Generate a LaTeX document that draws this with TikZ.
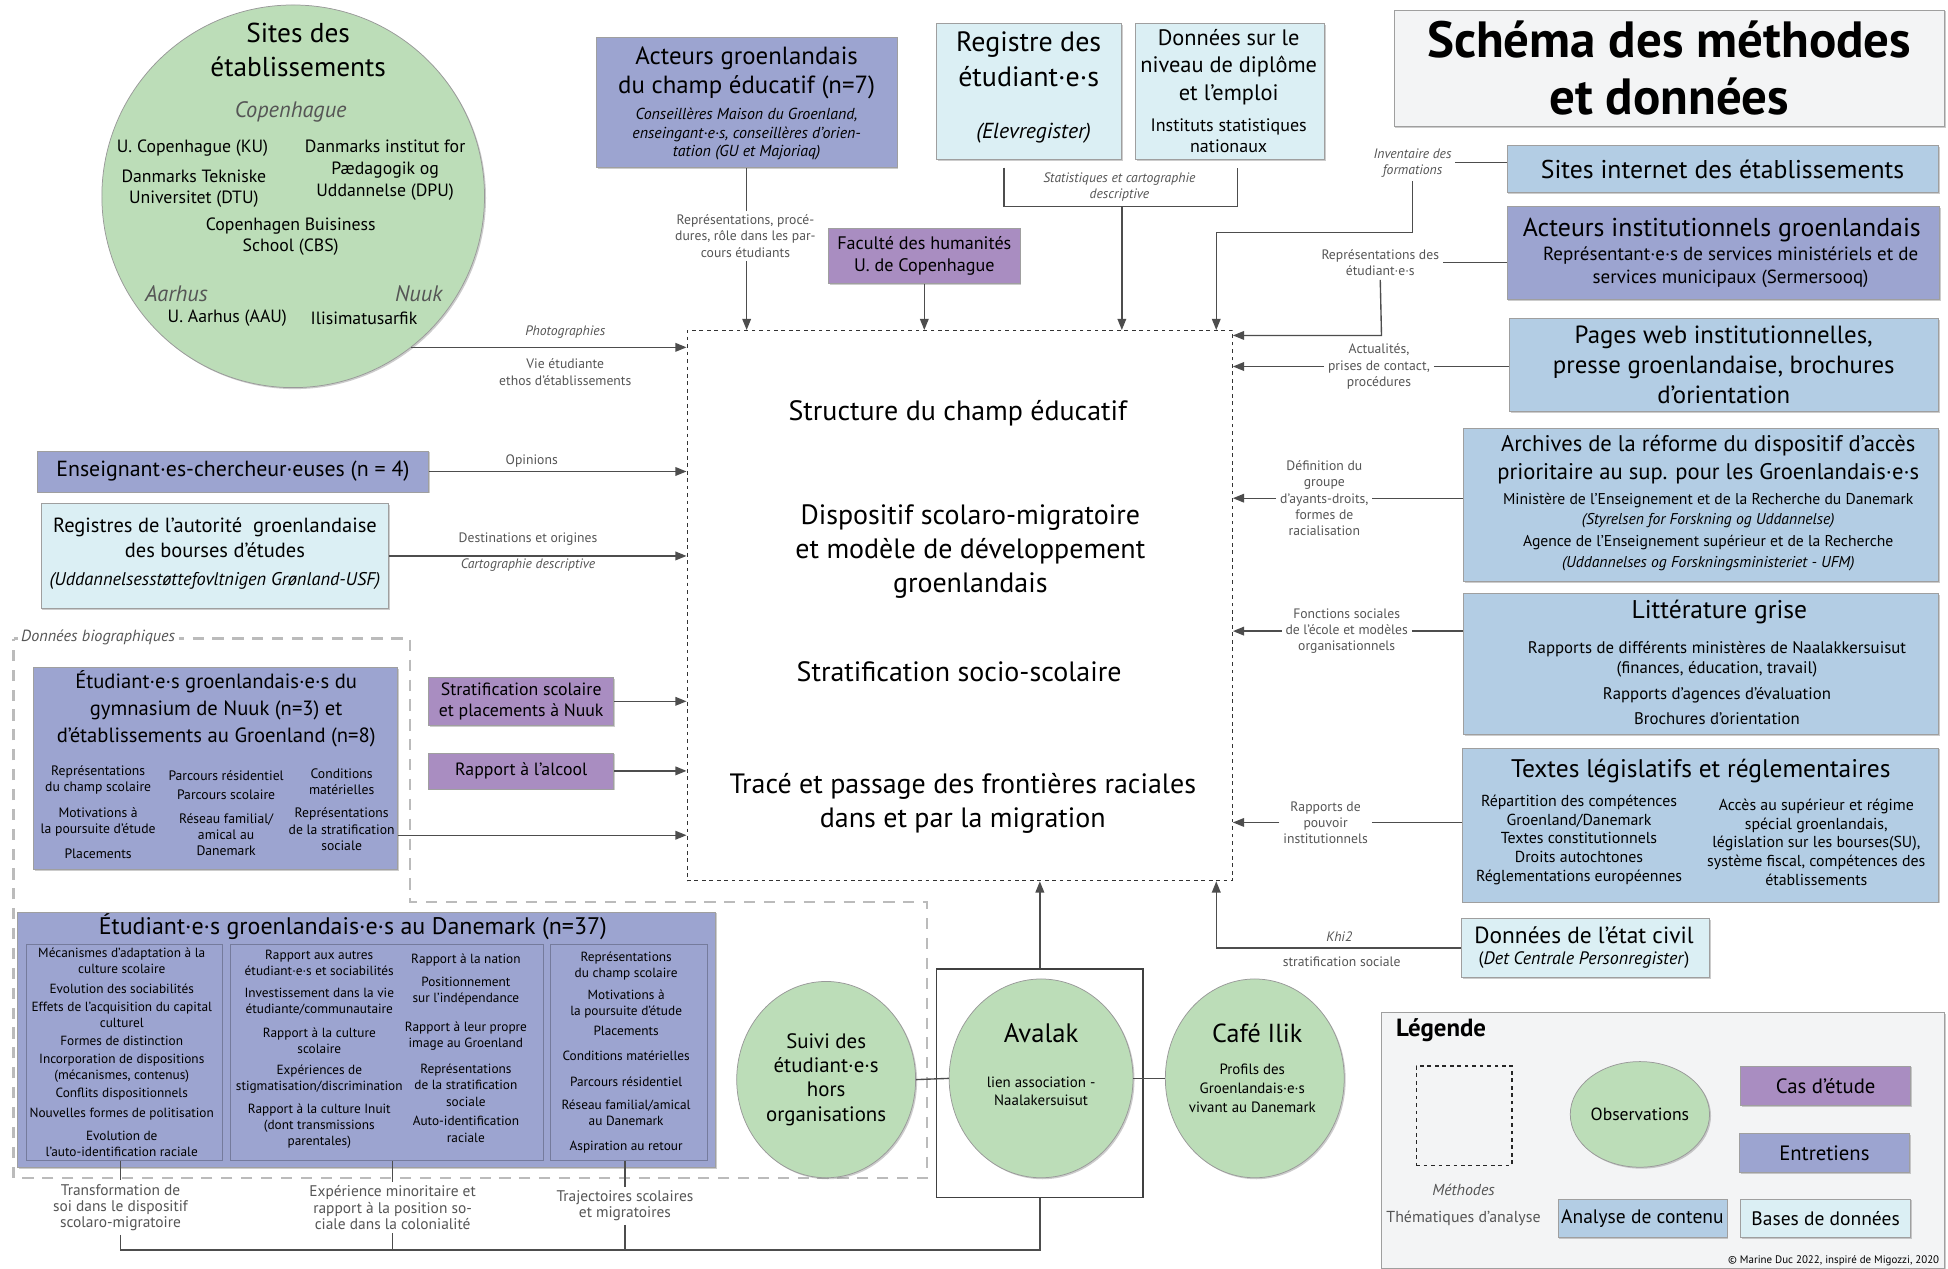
\documentclass[tikz,border=0pt]{standalone}
\usepackage{fontspec}
\setmainfont{PT Sans}
\usetikzlibrary{positioning,shapes.geometric,shadows,arrows.meta,calc}
\definecolor{clObs}{HTML}{BCDDB8}
\definecolor{clEntr}{HTML}{9CA4D0}
\definecolor{clCas}{HTML}{A98DC1}
\definecolor{clCont}{HTML}{B3CDE4}
\definecolor{clBase}{HTML}{DBEFF4}
\definecolor{clLeg}{HTML}{F3F4F5}
\definecolor{clLine}{HTML}{4D4D4D}
\definecolor{clTxt}{HTML}{555555}
\definecolor{clBio}{HTML}{BBBBBB}
\newcommand{\fsz}[2]{\fontsize{#1}{#2}\selectfont}
\tikzset{
  box/.style={draw=gray!75, line width=0.6pt, inner sep=2pt, align=center,
    drop shadow={shadow xshift=1.2pt, shadow yshift=-1.2pt, opacity=0.4}},
  entretien/.style={box, fill=clEntr},
  cas/.style={box, fill=clCas},
  contenu/.style={box, fill=clCont},
  base/.style={box, fill=clBase},
  obs/.style={ellipse, draw=gray!80, line width=0.6pt, fill=clObs, inner sep=0pt, align=center,
    drop shadow={shadow xshift=1.2pt, shadow yshift=-1.2pt, opacity=0.4}},
  txt/.style={align=center, inner sep=0pt},
  lbl/.style={txt, inner sep=3pt, text=clTxt, font=\fsz{11}{13}},
  ilbl/.style={lbl, font=\fsz{11}{13}\itshape},
  link/.style={draw=clLine, line width=1.1pt},
  arr/.style={link, -{Triangle[length=9pt,width=7pt]}},
  bio/.style={draw=clBio, line width=2pt, dash pattern=on 9pt off 7pt},
}
\begin{document}
\begin{tikzpicture}[x=1pt,y=-1pt]
\useasboundingbox (0,0) rectangle (1568,1021);
\fill[white] (0,0) rectangle (1568,1021);

% zone des donnees biographiques
\draw[bio] (11,514) -- (330,514) -- (330,726) -- (746,726) -- (746,948) -- (11,948) -- cycle;
\node[txt, fill=white, inner xsep=3pt, text=clTxt, font=\fsz{13}{15}\itshape] (bioL) at (79,513) {Données biographiques};

% champ central
\node[draw=black!80, dashed, line width=0.8pt, minimum width=439pt, minimum height=443pt] (champ) at (772.5,487.5) {};
\node[txt, font=\fsz{22.5}{27.5}] (t1) at (771,333) {Structure du champ éducatif};
\node[txt, font=\fsz{22.5}{27.5}] (t2) at (781,444) {Dispositif scolaro-migratoire\\et modèle de développement\\groenlandais};
\node[txt, font=\fsz{22.5}{27.5}] (t3) at (772,541) {Stratification socio-scolaire};
\node[txt, font=\fsz{22.5}{27.5}] (t4) at (775,646.5) {Tracé et passage des frontières raciales\\dans et par la migration};

% sites des etablissements
\node[obs, minimum size=308pt] (sites) at (236,158) {};
\node[txt, font=\fsz{22}{27}] (sitesT) at (240,40) {Sites des\\établissements};
\node[txt, font=\fsz{18}{20}\itshape, text=clTxt] (cph) at (234,90) {Copenhague};
\node[txt, font=\fsz{14.3}{17}] (ku) at (155,119) {U. Copenhague (KU)};
\node[txt, font=\fsz{14.3}{17.5}] (dpu) at (310,137) {Danmarks institut for\\Pædagogik og\\Uddannelse (DPU)};
\node[txt, font=\fsz{14.3}{16.5}] (dtu) at (156,152) {Danmarks Tekniske\\Universitet (DTU)};
\node[txt, font=\fsz{14.3}{16.5}] (cbs) at (234,190.5) {Copenhagen Buisiness\\School (CBS)};
\node[txt, font=\fsz{18}{20}\itshape, text=clTxt] (aar) at (142,236) {Aarhus};
\node[txt, font=\fsz{18}{20}\itshape, text=clTxt] (nuuk) at (337,236) {Nuuk};
\node[txt, font=\fsz{14.3}{17}] (aau) at (183,256) {U. Aarhus (AAU)};
\node[txt, font=\fsz{14.3}{17}] (ilis) at (293,256) {Ilisimatusarfik};

% haut
\node[entretien, minimum width=242pt, minimum height=105pt] (acteurs) at (601,82.5) {};
\node[txt, font=\fsz{20}{23}] (acteursT) at (601,58.5) {Acteurs groenlandais\\du champ éducatif (n=7)};
\node[txt, font=\fsz{12.8}{15}\itshape] (acteursS) at (601,108) {Conseillères Maison du Groenland,\\enseingant·e·s, conseillères d’orien-\\tation (GU et Majoriaq)};
\node[cas, minimum width=154pt, minimum height=44pt, font=\fsz{14.6}{17}] (faculte) at (744,206) {Faculté des humanités\\U. de Copenhague};
\node[base, minimum width=149pt, minimum height=109pt] (registre) at (828.5,73.5) {};
\node[txt, font=\fsz{22.5}{28}] (registreT) at (828,48) {Registre des\\étudiant·e·s};
\node[txt, font=\fsz{17.5}{20}\itshape] (elev) at (832,107) {(Elevregister)};
\node[base, minimum width=152pt, minimum height=109pt] (donnees) at (990,73.5) {};
\node[txt, font=\fsz{18}{22}] (donneesT) at (989,54) {Données sur le\\niveau de diplôme\\et l’emploi};
\node[txt, font=\fsz{14.5}{17}] (insee) at (989,109.5) {Instituts statistiques\\nationaux};
\node[box, fill=clLeg, minimum width=443pt, minimum height=94pt, font=\fsz{41}{46}\bfseries] (titre) at (1343.5,55) {Schéma des méthodes\\et données};

% droite
\node[contenu, minimum width=347pt, minimum height=38pt, font=\fsz{20.7}{24}] (siteweb) at (1386.5,136) {Sites internet des établissements};
\node[entretien, minimum width=348pt, minimum height=75pt] (instit) at (1387,203.5) {};
\node[txt, font=\fsz{20.8}{24}] (institT) at (1386,185) {Acteurs institutionnels groenlandais};
\node[txt, font=\fsz{15.3}{18}] (institS) at (1393,215) {Représentant·e·s de services ministériels et de\\services municipaux (Sermersooq)};
\node[contenu, minimum width=345pt, minimum height=75pt, font=\fsz{20}{24}] (pages) at (1387.5,293.5) {Pages web institutionnelles,\\presse groenlandaise, brochures\\d’orientation};
\node[contenu, minimum width=382pt, minimum height=123pt] (archives) at (1369,406.5) {};
\node[txt, font=\fsz{18.2}{22}] (archT) at (1375,370) {Archives de la réforme du dispositif d’accès\\prioritaire au sup. pour les Groenlandais·e·s};
\node[txt, font=\fsz{12.6}{16.5}] (archS) at (1375,428) {Ministère de l’Enseignement et de la Recherche du Danemark\\\textit{(Styrelsen for Forskning og Uddannelse)}\\[1pt]Agence de l’Enseignement supérieur et de la Recherche\\\textit{(Uddannelses og Forskningsministeriet - UFM)}};
\node[contenu, minimum width=382pt, minimum height=113pt] (litt) at (1369,534.5) {};
\node[txt, font=\fsz{20.6}{24}] (littT) at (1384,493) {Littérature grise};
\node[txt, font=\fsz{13.5}{16}] (littS) at (1382,550) {Rapports de différents ministères de Naalakkersuisut\\(finances, éducation, travail)\\[5pt]Rapports d’agences d’évaluation\\[4pt]Brochures d’orientation};
\node[contenu, minimum width=383pt, minimum height=124pt] (textes) at (1368.5,664) {};
\node[txt, font=\fsz{20.5}{24}] (textT) at (1369,621) {Textes législatifs et réglementaires};
\node[txt, font=\fsz{12.8}{15}] (textL) at (1271,676) {Répartition des compétences\\Groenland/Danemark\\Textes constitutionnels\\Droits autochtones\\Réglementations européennes};
\node[txt, font=\fsz{12.8}{15}] (textR) at (1462,678) {Accès au supérieur et régime\\spécial groenlandais,\\législation sur les bourses(SU),\\système fiscal, compétences des\\établissements};
\node[base, minimum width=200pt, minimum height=48pt] (etatcivil) at (1276,763) {};
\node[txt, font=\fsz{18.8}{22}] (etatT) at (1275,753) {Données de l’état civil};
\node[txt, font=\fsz{14.5}{17}] (etatS) at (1275,773) {(\textit{Det Centrale Personregister})};

% gauche
\node[entretien, minimum width=315pt, minimum height=33pt, font=\fsz{17.6}{20}] (enseign) at (187.5,379.5) {Enseignant·es-chercheur·euses (n = 4)};
\node[base, minimum width=280pt, minimum height=85pt] (bourses) at (173,447.5) {};
\node[txt, font=\fsz{16.5}{20}] (boursesT) at (173,433) {Registres de l’autorité~ groenlandaise\\des bourses d’études};
\node[txt, font=\fsz{14.8}{17}\itshape] (boursesS) at (173,468) {(Uddannelsesstøttefovltnigen Grønland-USF)};
\node[entretien, minimum width=293pt, minimum height=163pt] (nuukbox) at (173.5,618.5) {};
\node[txt, font=\fsz{16.6}{21.5}] (nuukT) at (174,570.5) {Étudiant·e·s groenlandais·e·s du\\gymnasium de Nuuk (n=3) et\\d’établissements au Groenland (n=8)};
\node[txt, font=\fsz{11}{13}] (nk1) at (79,653.5) {Représentations\\du champ scolaire\\[8pt]Motivations à\\la poursuite d’étude\\[7pt]Placements};
\node[txt, font=\fsz{11}{13}] (nk2) at (182,654.5) {Parcours résidentiel\\[3pt]Parcours scolaire\\[6pt]Réseau familial/\\amical au\\Danemark};
\node[txt, font=\fsz{11}{13}] (nk3) at (275,651.5) {Conditions\\matérielles\\[6pt]Représentations\\de la stratification\\sociale};
\node[cas, minimum width=149pt, minimum height=39pt, font=\fsz{14.3}{17}] (strat) at (419.5,564.5) {Stratification scolaire\\et placements à Nuuk};
\node[cas, minimum width=149pt, minimum height=29pt, font=\fsz{14.3}{17}] (alcool) at (419.5,620.5) {Rapport à l’alcool};

% etudiant.e.s au Danemark
\node[entretien, minimum width=562pt, minimum height=206pt] (danbox) at (295,837) {};
\node[txt, font=\fsz{19.3}{22}] (danT) at (284,746) {Étudiant·e·s groenlandais·e·s au Danemark (n=37)};
\node[draw=clEntr!75!black, line width=0.4pt, minimum width=158pt, minimum height=174pt] (col1) at (100,847) {};
\node[draw=clEntr!75!black, line width=0.4pt, minimum width=252pt, minimum height=174pt] (col2) at (311,847) {};
\node[draw=clEntr!75!black, line width=0.4pt, minimum width=126pt, minimum height=174pt] (col3) at (506,847) {};
\node[txt, font=\fsz{10.7}{13}] (c1) at (98,847) {Mécanismes d’adaptation à la\\culture scolaire\\[3pt]Evolution des sociabilités\\[1pt]Effets de l’acquisition du capital\\culturel\\[2pt]Formes de distinction\\[1pt]Incorporation de dispositions\\(mécanismes, contenus)\\[2pt]Conflits dispositionnels\\[3pt]Nouvelles formes de politisation\\[5pt]Evolution de\\l’auto-identification raciale};
\node[txt, font=\fsz{10.7}{13}] (c2) at (257,844.5) {Rapport aux autres\\étudiant·e·s et sociabilités\\[5pt]Investissement dans la vie\\étudiante/communautaire\\[6pt]Rapport à la culture\\scolaire\\[4pt]Expériences de\\stigmatisation/discrimination\\[5pt]Rapport à la culture Inuit\\(dont transmissions\\parentales)};
\node[txt, font=\fsz{10.7}{13}] (c3) at (375,843.5) {Rapport à la nation\\[6pt]Positionnement\\sur l’indépendance\\[10pt]Rapport à leur propre\\image au Groenland\\[8pt]Représentations\\de la stratification\\sociale\\[3pt]Auto-identification\\raciale};
\node[txt, font=\fsz{10.7}{13}] (c4) at (504,847) {Représentations\\du champ scolaire\\[5pt]Motivations à\\la poursuite d’étude\\[3pt]Placements\\[7pt]Conditions matérielles\\[8pt]Parcours résidentiel\\[5pt]Réseau familial/amical\\au Danemark\\[7pt]Aspiration au retour};

% observations
\node[draw=black!75, line width=1pt, minimum width=166pt, minimum height=184pt] (avbox) at (837,872) {};
\node[obs, minimum width=144pt, minimum height=158pt, font=\fsz{16.8}{19.5}] (suivi) at (665,869) {Suivi des\\étudiant·e·s\\hors\\organisations};
\node[obs, minimum width=148pt, minimum height=160pt] (avalak) at (838,868) {};
\node[txt, font=\fsz{21.5}{24}] (avT) at (838,832) {Avalak};
\node[txt, font=\fsz{12}{15}] (avS) at (838,878.5) {lien association -\\Naalakersuisut};
\node[obs, minimum width=144pt, minimum height=160pt] (cafe) at (1010,868) {};
\node[txt, font=\fsz{21}{24}] (cafeT) at (1012,832) {Café Ilik};
\node[txt, font=\fsz{12}{15}] (cafeS) at (1008,876) {Profils des\\Groenlandais·e·s\\vivant au Danemark};
\draw[link] (suivi.east) -- (avalak.west);
\draw[link] (avalak.east) -- (cafe.west);
\draw[arr] (avbox.north) -- (avbox.north |- champ.south);

% themes d'analyse
\coordinate (bas) at (837,1006);
\node[lbl, font=\fsz{12.4}{13}] (th1) at (97,972) {Transformation de\\soi dans le dispositif\\scolaro-migratoire};
\node[lbl, font=\fsz{12.4}{13}] (th2) at (316,972) {Expérience minoritaire et\\rapport à la position so-\\ciale dans la colonialité};
\node[lbl, font=\fsz{12.4}{13}] (th3) at (503,970.5) {Trajectoires scolaires\\et migratoires};
\draw[link] (th1 |- col1.south) -- (th1.north);
\draw[link] (th2 |- col2.south) -- (th2.north);
\draw[link] (th3 |- col3.south) -- (th3.north);
\draw[link] (th1.south) |- (bas) -- (avbox.south);
\draw[link] (th2.south) -- (th2.south |- bas);
\draw[link] (th3.south) -- (th3.south |- bas);

% connecteurs a gauche
\draw[arr] (sites.-52) -- (sites.-52 -| champ.west);
\node[ilbl] (photo) at (455,267) {Photographies};
\node[lbl] (vie) at (455,299.5) {Vie étudiante\\ethos d’établissements};
\draw[arr] (enseign.east) -- (enseign.east -| champ.west);
\node[lbl] (opin) at (428,371) {Opinions};
\draw[arr] (bourses.east) -- (bourses.east -| champ.west);
\node[lbl] (dest) at (425,434) {Destinations et origines};
\node[ilbl] (carto) at (425,455) {Cartographie descriptive};
\draw[arr] (strat.east) -- (strat.east -| champ.west);
\draw[arr] (alcool.east) -- (alcool.east -| champ.west);
\coordinate (kNuuk) at ($(nuukbox.south east)+(0,-28)$);
\draw[arr] (kNuuk) -- (kNuuk -| champ.west);

% connecteurs en haut
\node[lbl] (reprA) at (600,190) {Représentations, procé-\\dures, rôle dans les par-\\cours étudiants};
\draw[link] (acteurs.south) -- (acteurs.south |- reprA.north);
\draw[arr] (acteurs.south |- reprA.south) -- (acteurs.south |- champ.north);
\draw[arr] (faculte.south) -- (faculte.south |- champ.north);
\coordinate (brL) at (808,135);
\coordinate (brR) at (996,135);
\coordinate (brM) at (903,166);
\draw[link] (brL) |- (brM) -| (brR);
\node[ilbl] (stat) at (901,150.5) {Statistiques et cartographie\\descriptive};
\draw[arr] (brM) -- (brM |- champ.north);

% connecteurs a droite
\coordinate (kInv) at (979,187);
\node[ilbl] (invent) at (1137,131) {Inventaire des\\formations};
\draw[link] (invent.east) -- (invent.east -| siteweb.west);
\draw[arr] (invent.south) |- (kInv) -- (kInv |- champ.north);
\coordinate (kRep) at (1112,270);
\node[lbl] (repr) at (1111,211.5) {Représentations des\\étudiant·e·s};
\draw[link] (repr.east) -- (repr.east -| instit.west);
\draw[arr] (repr.south) -- (kRep) -- (kRep -| champ.east);
\node[lbl] (actu) at (1110,295) {Actualités,\\prises de contact,\\procédures};
\draw[link] (actu.east) -- (actu.east -| pages.west);
\draw[arr] (actu.west) -- (actu.west -| champ.east);
\node[lbl] (defi) at (1066,401) {Définition du\\groupe\\d’ayants-droits,\\formes de\\racialisation};
\draw[link] (defi.east) -- (defi.east -| archives.west);
\draw[arr] (defi.west) -- (defi.west -| champ.east);
\node[lbl] (fonc) at (1084,508) {Fonctions sociales\\de l’école et modèles\\organisationnels};
\draw[link] (fonc.east) -- (fonc.east -| litt.west);
\draw[arr] (fonc.west) -- (fonc.west -| champ.east);
\node[lbl] (rapp) at (1067,662) {Rapports de\\pouvoir\\institutionnels};
\draw[link] (rapp.east) -- (rapp.east -| textes.west);
\draw[arr] (rapp.west) -- (rapp.west -| champ.east);
\draw[arr] (etatcivil.west) -| (kInv |- champ.south);
\node[ilbl] (khi) at (1078,754) {Khi2};
\node[lbl] (stratS) at (1080,774) {stratification sociale};

% legende
\node[box, fill=clLeg, minimum width=453pt, minimum height=206pt] (leg) at (1338.5,918) {};
\node[txt, font=\fsz{20}{24}\bfseries] (legT) at (1160,829) {Légende};
\node[draw=black!85, dashed, line width=0.9pt, minimum width=77pt, minimum height=80pt] (legM) at (1178.5,898) {};
\node[txt, font=\fsz{12.8}{15}\itshape, text=clTxt] (legMeth) at (1178,958) {Méthodes};
\node[txt, font=\fsz{12.8}{15}, text=clTxt] (legThem) at (1178,981) {Thématiques d’analyse};
\node[obs, minimum width=82pt, minimum height=85pt, font=\fsz{14.2}{16}] (legObs) at (1320,897) {Observations};
\node[cas, minimum width=137pt, minimum height=32pt, font=\fsz{16.7}{19}] (legCas) at (1469.5,874) {Cas d’étude};
\node[entretien, minimum width=137pt, minimum height=32pt, font=\fsz{16.7}{19}] (legEnt) at (1468.5,928) {Entretiens};
\node[contenu, minimum width=136pt, minimum height=31pt, font=\fsz{15.7}{18}] (legCont) at (1322,980.5) {Analyse de contenu};
\node[base, minimum width=137pt, minimum height=31pt, font=\fsz{15.7}{18}] (legBase) at (1469.5,980.5) {Bases de données};
\node[txt, font=\fsz{8.8}{10}] (copy) at (1476,1015) {© Marine Duc 2022, inspiré de Migozzi, 2020};
\end{tikzpicture}
\end{document}
